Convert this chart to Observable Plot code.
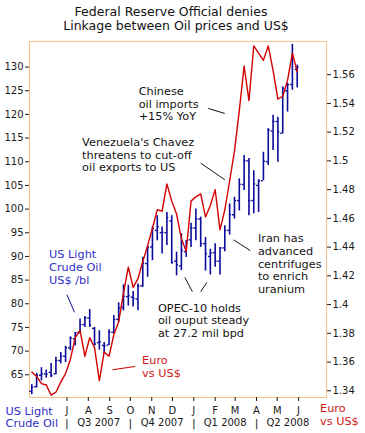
<!DOCTYPE html>
<html><head><meta charset="utf-8">
<script src="https://cdn.jsdelivr.net/npm/d3@7"></script>
<script src="https://cdn.jsdelivr.net/npm/@observablehq/plot@0.6"></script>
<style>
html,body{margin:0;padding:0;background:#fff;}
#chart{width:365px;height:433px;}
</style></head><body><div id="chart"></div>
<script>
// Weekly WTI crude (US$/bl), weeks ending Fridays 11 May 2007 .. 30 May 2008
const oilOpen  = [61.5,62.5,64.9,65.2,65.5,65.2,68.0,68.9,70.7,72.6,74.0,75.6,77.0,74.8,71.8,71.2,71.3,74.0,76.7,79.2,81.5,81.4,81.0,83.8,88.5,92.0,95.5,95.0,95.0,97.5,89.0,88.0,91.0,93.5,96.0,97.9,92.7,90.0,90.8,89.0,91.8,95.5,98.8,101.8,105.2,110.2,101.8,105.0,106.0,110.0,116.5,118.5,116.0,125.0,126.3,129.5];
const oilHigh  = [62.9,65.3,66.5,66.0,67.4,68.7,69.7,71.0,73.0,73.9,76.8,77.3,78.8,75.0,74.3,71.8,74.5,77.5,80.2,84.0,83.9,82.6,84.2,89.8,92.2,96.2,98.6,96.2,99.3,98.6,90.9,94.8,93.3,97.0,100.0,98.3,94.0,91.5,92.7,91.9,96.5,101.1,102.5,106.4,111.3,110.7,108.1,106.2,112.0,117.0,119.8,119.4,125.8,126.5,134.8,130.4];
const oilLow   = [60.8,62.2,63.7,64.3,64.4,65.0,67.3,67.6,70.1,71.1,73.6,75.0,75.0,71.1,70.2,69.4,71.2,73.6,76.1,78.5,79.5,79.3,78.5,83.5,85.6,89.1,93.3,90.5,92.3,88.4,85.9,87.0,89.8,91.9,93.3,91.9,86.9,86.1,87.7,86.1,91.0,94.5,97.9,99.6,103.9,98.6,99.0,99.3,106.0,109.2,112.4,109.9,115.9,120.5,125.1,125.6];
const oilClose = [62.4,64.9,65.2,65.1,64.8,68.0,69.0,70.7,72.8,73.9,75.6,77.0,75.5,71.5,72.0,71.1,74.0,76.7,79.1,81.6,81.7,81.2,83.7,88.6,91.9,95.9,96.3,95.1,98.2,88.7,88.3,91.3,93.3,96.0,97.9,92.7,90.6,90.7,89.0,91.8,95.5,98.8,101.8,105.2,110.2,101.8,105.3,106.0,110.1,116.7,118.5,116.3,125.5,126.3,132.2,130.0];
// Euro vs US$, weekly close
const euroClose = [1.353,1.350,1.345,1.344,1.337,1.339,1.346,1.352,1.362,1.377,1.382,1.364,1.377,1.370,1.347,1.367,1.364,1.379,1.388,1.408,1.426,1.412,1.418,1.430,1.441,1.453,1.466,1.465,1.484,1.472,1.463,1.446,1.437,1.472,1.475,1.477,1.461,1.469,1.480,1.452,1.466,1.486,1.507,1.535,1.566,1.542,1.580,1.575,1.570,1.580,1.563,1.543,1.545,1.556,1.575,1.562];

const oilTicks  = [65,70,75,80,85,90,95,100,105,110,115,120,125,130];
const euroTicks = [1.34,1.36,1.38,1.40,1.42,1.44,1.46,1.48,1.50,1.52,1.54,1.56];
const monthLabels = ["J","A","S","O","N","D","J","F","M","A","M","J"];
const quarterLabels = ["Q3 2007","Q4 2007","Q1 2008","Q2 2008"];
const quarterStarts = ["2007-07-01","2007-10-01","2008-01-01","2008-04-01","2008-07-01"];

const titleLines = ["Federal Reserve Official denies","Linkage between Oil prices and US$"];

const BLUE = "#0c0c9c", RED = "#d20000", TXT = "#141414", LBLUE = "#2f2fc8", LRED = "#d01818";

// secondary (Euro) axis mapped onto the oil scale
const toOil = e => 61.62 + (e - 1.34) * 303.5;
const fromOil = v => 1.34 + (v - 61.62) / 303.5;

const weeks = d3.utcFriday.range(new Date(Date.UTC(2007,4,11)), new Date(Date.UTC(2008,4,31)));
const bars = weeks.map((date, i) => ({date, open: oilOpen[i], high: oilHigh[i], low: oilLow[i], close: oilClose[i], euro: euroClose[i]}));

const monthStarts = d3.utcMonth.range(new Date(Date.UTC(2007,6,1)), new Date(Date.UTC(2008,6,1)));
const qStarts = quarterStarts.map(s => new Date(s + "T00:00Z"));
const quarters = quarterLabels.map((label, i) => ({label, mid: new Date((+qStarts[i] + +qStarts[i+1]) / 2)}));

const notes = [
  {date: "2007-10-13", price: 122.3, text: "Chinese\noil imports\n+15% YoY"},
  {date: "2007-07-23", price: 111.5, text: "Venezuela's Chavez\nthreatens to cut-off\noil exports to US"},
  {date: "2007-11-10", price: 76.5,  text: "OPEC-10 holds\noil ouput steady\nat 27.2 mil bpd"},
  {date: "2008-04-03", price: 88.5,  text: "Iran has\nadvanced\ncentrifuges\nto enrich\nuranium"}
];
const blueNotes = [{date: "2007-06-05", price: 87.84, text: "US Light\nCrude Oil\nUS$ /bl"}];
const redNotes  = [{date: "2007-10-18", price: 66.8, text: "Euro\nvs US$"}];

const leaders = [
  {d1: "2008-01-22", p1: 121.26, d2: "2008-02-15", p2: 120.2, c: TXT},
  {d1: "2008-01-11", p1: 109.7,  d2: "2008-02-15", p2: 106.2, c: TXT},
  {d1: "2007-12-19", p1: 85.58,  d2: "2007-12-30", p2: 82.55, c: TXT},
  {d1: "2008-01-20", p1: 84.52,  d2: "2008-01-11", p2: 82.55, c: TXT},
  {d1: "2008-02-28", p1: 93.49,  d2: "2008-03-23", p2: 91.23, c: TXT},
  {d1: "2007-07-01", p1: 81.9,   d2: "2007-07-12", p2: 78.2,  c: BLUE},
  {d1: "2007-09-05", p1: 66.06,  d2: "2007-10-08", p2: 66.76, c: RED}
];
const D = s => new Date(s + "T00:00Z");

const chart = Plot.plot({
  width: 365, height: 433,
  marginLeft: 29, marginRight: 39, marginTop: 41, marginBottom: 36,
  style: {fontFamily: "'DejaVu Sans', Verdana, sans-serif", background: "#fff", color: "#1a1a1a"},
  x: {type: "utc", domain: [new Date(Date.UTC(2007,4,7,16)), new Date(Date.UTC(2008,6,11,12))]},
  y: {domain: [60.2, 135.4]},
  marks: [
    Plot.frame({stroke: "#f8c28a"}),
    Plot.axisY(oilTicks, {anchor: "left", tickSize: 4, tickPadding: 2, fontSize: 10, label: null, color: "#1a1a1a"}),
    Plot.axisY(euroTicks.map(toOil), {anchor: "right", tickSize: 4, tickPadding: 2, fontSize: 10, label: null, color: "#1a1a1a",
      tickFormat: v => String(Math.round(fromOil(v) * 100) / 100)}),
    Plot.axisX(monthStarts, {anchor: "bottom", tickSize: 4, tickPadding: 5, fontSize: 10, label: null, color: "#1a1a1a",
      tickFormat: d => monthLabels[(d.getUTCMonth() + 6) % 12]}),
    Plot.text(quarters, {x: "mid", text: "label", frameAnchor: "bottom", lineAnchor: "middle", dy: 25, fontSize: 10, fill: "#1a1a1a"}),
    Plot.text(qStarts.slice(0, 4), {x: d => d, text: () => "|", frameAnchor: "bottom", lineAnchor: "middle", dy: 25.5, fontSize: 11, fill: "#1a1a1a"}),
    // OHLC bars
    Plot.ruleX(bars, {x: "date", y1: "low", y2: "high", stroke: BLUE, strokeWidth: 1.6}),
    Plot.ruleY(bars, {y: "open", x1: d => d3.utcHour.offset(d.date, -68), x2: "date", stroke: BLUE, strokeWidth: 1.4}),
    Plot.ruleY(bars, {y: "close", x1: "date", x2: d => d3.utcHour.offset(d.date, 68), stroke: BLUE, strokeWidth: 1.4}),
    // Euro line
    Plot.line(bars, {x: "date", y: d => toOil(d.euro), stroke: RED, strokeWidth: 1.4}),
    // leaders
    Plot.link(leaders, {x1: d => D(d.d1), y1: "p1", x2: d => D(d.d2), y2: "p2", stroke: "c", strokeWidth: 1}),
    // annotations
    Plot.text(notes, {x: d => D(d.date), y: "price", text: "text", textAnchor: "start", fontSize: 11.3, lineHeight: 1.13, fill: TXT}),
    Plot.text(blueNotes, {x: d => D(d.date), y: "price", text: "text", textAnchor: "start", fontSize: 11.3, lineHeight: 1.15, fill: LBLUE}),
    Plot.text(redNotes, {x: d => D(d.date), y: "price", text: "text", textAnchor: "start", fontSize: 11.3, lineHeight: 1.15, fill: LRED}),
    Plot.text(["US Light\nCrude Oil"], {text: d => d, frameAnchor: "bottom-left", lineAnchor: "middle", textAnchor: "start", dx: -24, dy: 19.5, fontSize: 11.3, lineHeight: 1.12, fill: LBLUE}),
    Plot.text(["Euro\nvs US$"], {text: d => d, frameAnchor: "bottom-right", lineAnchor: "middle", textAnchor: "start", dx: -6.5, dy: 16.5, fontSize: 11.3, lineHeight: 1.17, fill: LRED}),
    // title
    Plot.text([titleLines[0]], {text: d => d, frameAnchor: "top-left", lineAnchor: "middle", textAnchor: "middle", dx: 141.5, dy: -30, fontSize: 12.5, fill: "#111"}),
    Plot.text([titleLines[1]], {text: d => d, frameAnchor: "top-left", lineAnchor: "middle", textAnchor: "middle", dx: 146.5, dy: -16, fontSize: 12.5, fill: "#111"})
  ]
});
document.getElementById("chart").appendChild(chart);
</script></body></html>
